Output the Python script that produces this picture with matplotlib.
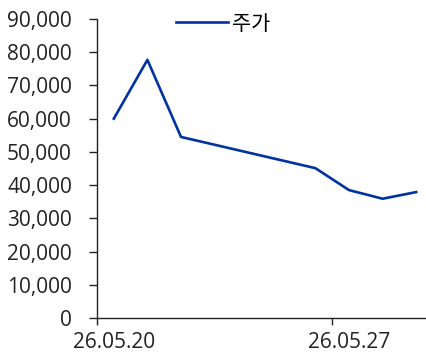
import numpy as np
import matplotlib.pyplot as plt
from matplotlib.ticker import FuncFormatter

plt.rcParams['font.family'] = ['Open Sans', 'Noto Sans CJK KR', 'DejaVu Sans']

# daily categories, gaps where no trading
dates = ['26.05.20', '26.05.21', '26.05.22', '26.05.23', '26.05.24',
         '26.05.25', '26.05.26', '26.05.27', '26.05.28', '26.05.29']
price = [60000, 77700, 54500, None, None, None, 45100, 38500, 35900, 37900]
tick_labels = ['26.05.20', '26.05.27']
series_name = '주가'

x = np.arange(len(dates))
y = np.array([np.nan if v is None else v for v in price], dtype=float)
ok = ~np.isnan(y)

fig = plt.figure(figsize=(4.26, 3.54), dpi=100)
ax = fig.add_axes([97/426, 1 - 318/354, 329/426, (318 - 19)/354])

ax.plot(x[ok], y[ok], color='#0033a0', lw=1.9, label=series_name)

ax.set_ylim(0, 90000)
ax.set_yticks(np.arange(0, 90001, 10000))
ax.yaxis.set_major_formatter(FuncFormatter(lambda v, p: f'{int(v):,}'))
ax.set_xlim(-0.5, -0.5 + 329/33.6)

# ticks sit on category boundaries, labels centred on the category
lab_pos = [dates.index(t) for t in tick_labels]
ax.set_xticks([p - 0.5 for p in lab_pos])
ax.set_xticklabels([])
ax.set_xticks(lab_pos, minor=True)
ax.set_xticklabels(tick_labels, minor=True)
ax.tick_params(axis='x', which='minor', length=0, pad=10, labelsize=15, colors='#222222')
ax.tick_params(axis='x', which='major', length=5, width=1, color='#222222')
ax.tick_params(axis='y', length=6, width=1, color='#222222', labelsize=15,
               labelcolor='#222222', pad=12)

for s in ['top', 'right']:
    ax.spines[s].set_visible(False)
for s in ['left', 'bottom']:
    ax.spines[s].set_color('#222222')
    ax.spines[s].set_linewidth(1)

fig.legend(loc='center', bbox_to_anchor=(223/426, 1 - 24/354), frameon=False,
           fontsize=15, handlelength=2.5, handletextpad=0.2, borderpad=0)

fig.savefig('out.png', dpi=100)
